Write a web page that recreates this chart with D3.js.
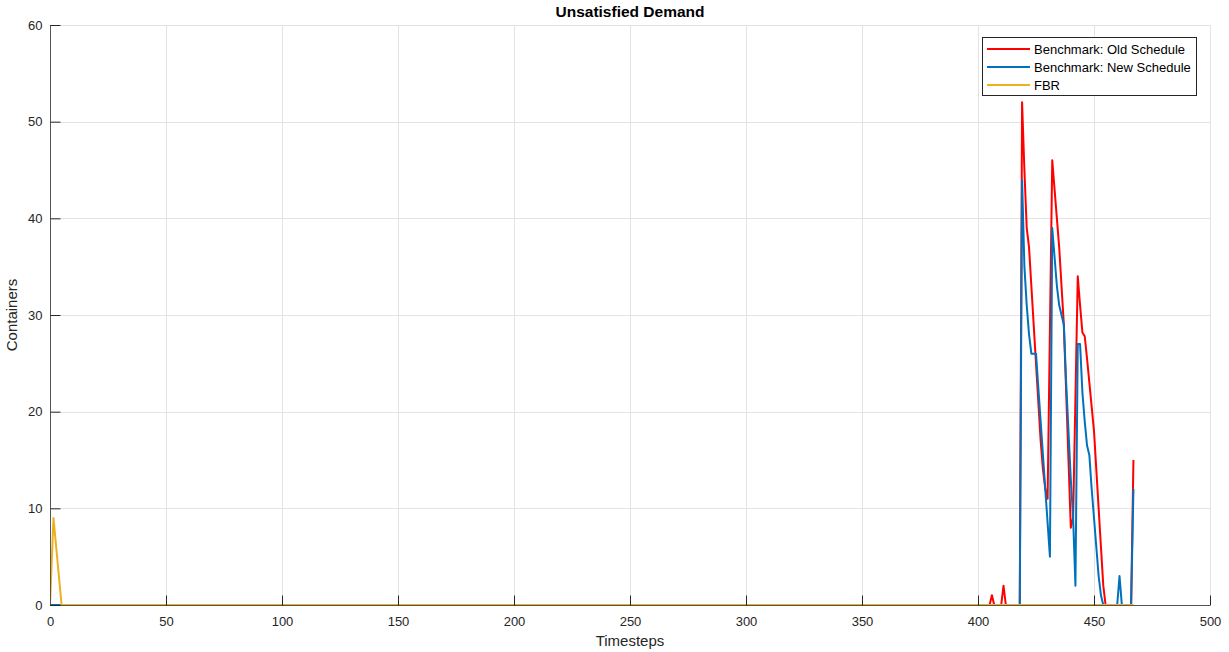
<!DOCTYPE html>
<html>
<head>
<meta charset="utf-8">
<script src="https://cdn.jsdelivr.net/npm/d3@7"></script>
<style>
  html, body { margin: 0; padding: 0; background: #ffffff; }
  svg { display: block; font-family: "Liberation Sans", Arial, sans-serif; }
</style>
</head>
<body>
<svg id="chart" width="1229" height="652"></svg>
<script>
// Unsatisfied demand per timestep (vertices of each polyline)
const oldT = [0, 405, 406, 407, 410, 411, 412, 418, 419, 420, 421, 422, 423, 424, 425, 426, 427, 428, 429, 430, 432, 433, 434, 435, 436, 437, 438, 439, 440, 441, 443, 444, 445, 446, 447, 448, 449, 450, 451, 452, 453, 454, 455, 466, 467];
const oldV = [0, 0, 1, 0, 0, 2, 0, 0, 52, 45, 39, 37, 33, 29, 25, 21, 17, 14, 12, 11, 46, 43, 40, 37, 33, 29, 22, 15, 8, 9, 34, 31, 28.2, 27.8, 25.5, 23, 20.5, 18, 14, 10, 6, 2, 0, 0, 15];

const newT = [0, 418, 419, 420, 421, 422, 423, 424, 425, 426, 427, 428, 429, 430, 431, 432, 433, 434, 435, 436, 437, 438, 439, 440, 441, 442, 443, 444, 445, 446, 447, 448, 449, 450, 451, 452, 453, 454, 460, 461, 462, 466, 467];
const newV = [0, 0, 44, 35, 31, 28, 26, 26, 26, 22.5, 19, 15.5, 12, 8.5, 5, 39, 36, 33, 31, 30, 29, 23, 18, 13, 9, 2, 27, 27, 22, 19, 16.5, 15.5, 12, 9, 6, 3, 1, 0, 0, 3, 0, 0, 12];

const fbrT = [0, 1.5, 5, 467];
const fbrV = [0, 9, 0, 0];

const seriesNames = ["Benchmark: Old Schedule", "Benchmark: New Schedule", "FBR"];
const seriesColors = ["#ff0000", "#0072bd", "#edb120"];

const xTicks = [0, 50, 100, 150, 200, 250, 300, 350, 400, 450, 500];
const yTicks = [0, 10, 20, 30, 40, 50, 60];

const titleText = "Unsatisfied Demand";
const xLabel = "Timesteps";
const yLabel = "Containers";

// Layout of the plot box
const pLeft = 50, pRight = 1210, pTop = 25, pBottom = 605;
const svg = d3.select("#chart");

const x = d3.scaleLinear().domain([0, 500]).range([pLeft, pRight]);
const y = d3.scaleLinear().domain([0, 60]).range([pBottom, pTop]);

// Grid
const grid = svg.append("g").attr("stroke", "#e3e3e3").attr("stroke-width", 1);
grid.selectAll("line.gx").data(xTicks.filter(d => d > 0)).enter().append("line")
  .attr("x1", d => Math.round(x(d)) + 0.5).attr("x2", d => Math.round(x(d)) + 0.5)
  .attr("y1", pTop).attr("y2", pBottom);
grid.selectAll("line.gy").data(yTicks.filter(d => d > 0)).enter().append("line")
  .attr("x1", pLeft).attr("x2", pRight)
  .attr("y1", d => Math.round(y(d)) + 0.5).attr("y2", d => Math.round(y(d)) + 0.5);

// Data lines
svg.append("clipPath").attr("id", "plotClip").append("rect")
  .attr("x", pLeft).attr("y", pTop - 2).attr("width", pRight - pLeft).attr("height", pBottom - pTop + 4);

const lineGen = d3.line().x(d => x(d[0])).y(d => y(d[1]));
const series = [
  d3.zip(oldT, oldV),
  d3.zip(newT, newV),
  d3.zip(fbrT, fbrV)
];
const plot = svg.append("g").attr("clip-path", "url(#plotClip)");
series.forEach((pts, i) => {
  plot.append("path")
    .attr("d", lineGen(pts))
    .attr("fill", "none")
    .attr("stroke", seriesColors[i])
    .attr("stroke-width", 2)
    .attr("stroke-linejoin", "round");
});

// Axes
const axisColor = "#262626";
const xAxis = svg.append("g").attr("transform", `translate(0,${pBottom + 0.5})`)
  .call(d3.axisBottom(x).tickValues(xTicks).tickSizeInner(-10).tickSizeOuter(0).tickPadding(11));
const yAxis = svg.append("g").attr("transform", `translate(${pLeft + 0.5},0)`)
  .call(d3.axisLeft(y).tickValues(yTicks).tickSizeInner(-10).tickSizeOuter(0).tickPadding(8));
[xAxis, yAxis].forEach(a => {
  a.select(".domain").attr("stroke", "#555555");
  a.selectAll(".tick line").attr("stroke", axisColor);
  a.selectAll(".tick text").attr("fill", "#262626").attr("font-size", 13)
    .attr("font-family", "Liberation Sans, Arial, sans-serif");
});
xAxis.select(".domain").attr("d", `M${pLeft},0H${pRight}`);
yAxis.select(".domain").attr("d", `M0,${pTop}V${pBottom}`);

// Title and axis labels
svg.append("text").attr("x", (pLeft + pRight) / 2).attr("y", 17)
  .attr("text-anchor", "middle").attr("font-size", 15.5).attr("font-weight", "bold")
  .attr("fill", "#000").text(titleText);
svg.append("text").attr("x", (pLeft + pRight) / 2).attr("y", 646)
  .attr("text-anchor", "middle").attr("font-size", 15).attr("fill", "#262626").text(xLabel);
svg.append("text").attr("transform", `translate(17,${(pTop + pBottom) / 2}) rotate(-90)`)
  .attr("text-anchor", "middle").attr("font-size", 15).attr("fill", "#262626").text(yLabel);

// Legend
const lg = svg.append("g");
lg.append("rect").attr("x", 982.5).attr("y", 37.5).attr("width", 214).attr("height", 58)
  .attr("fill", "#fff").attr("stroke", "#262626").attr("stroke-width", 1);
const rowY = [49, 67, 85];
seriesNames.forEach((name, i) => {
  lg.append("line").attr("x1", 987).attr("x2", 1030).attr("y1", rowY[i]).attr("y2", rowY[i])
    .attr("stroke", seriesColors[i]).attr("stroke-width", 2);
  lg.append("text").attr("x", 1034).attr("y", rowY[i] + 4.5)
    .attr("font-size", 13).attr("fill", "#000").text(name);
});
</script>
</body>
</html>
